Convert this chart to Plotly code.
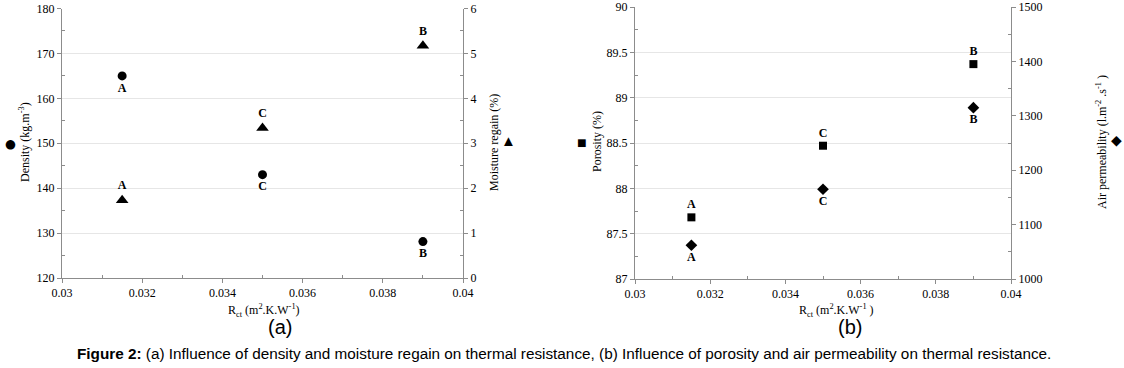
import plotly.graph_objects as go

# ---------------- data ----------------
rct = [0.0315, 0.035, 0.039]
fabric = ["A", "C", "B"]
density = [165.0, 143.0, 128.1]
moisture = [1.73, 3.34, 5.17]
porosity = [87.68, 88.47, 89.37]
air_perm = [1062, 1165, 1315]

x_ticks = [0.03, 0.032, 0.034, 0.036, 0.038, 0.04]
x_ticktext = ["0.03", "0.032", "0.034", "0.036", "0.038", "0.04"]
x_minor = [0.031, 0.033, 0.035, 0.037, 0.039]
dens_ticks = [120, 130, 140, 150, 160, 170, 180]
moist_ticks = [0, 1, 2, 3, 4, 5, 6]
por_ticks = [87, 87.5, 88, 88.5, 89, 89.5, 90]
air_ticks = [1000, 1100, 1200, 1300, 1400, 1500]

W, H = 1124, 368
def px(x):
    return x / W
def py(y):
    return 1 - y / H

SERIF = "Liberation Serif, Times New Roman, serif"
SANS = "Liberation Sans, Arial, sans-serif"
AXC = "#8c8c8c"
GRID = "#e6e6e6"
tickfont = dict(family=SERIF, size=12, color="black")
labfont = dict(family=SERIF, size=12, color="black")

fig = go.Figure()

def add_series(x, y, sym, size, pos, xa, ya):
    fig.add_trace(go.Scatter(
        x=x, y=y, mode="markers+text", text=["<b>%s</b>" % t for t in fabric],
        textposition=pos, textfont=labfont,
        marker=dict(symbol=sym, size=size, color="black"),
        xaxis=xa, yaxis=ya, showlegend=False, cliponaxis=False, hoverinfo="skip"))

add_series(rct, density, "circle", 9, "bottom center", "x", "y")
add_series(rct, moisture, "triangle-up", 11, "top center", "x", "y2")
add_series(rct, porosity, "square", 8, "top center", "x2", "y3")
add_series(rct, air_perm, "diamond", 9, "bottom center", "x2", "y4")

xd1 = [px(62), px(463)]
xd2 = [px(635), px(1011)]
yd1 = [py(278), py(8.5)]
yd2 = [py(279), py(7)]

def xaxis(dom, anchor):
    return dict(domain=dom, anchor=anchor, range=[0.03, 0.04], automargin=False,
                tickmode="array", tickvals=x_ticks, ticktext=x_ticktext,
                ticks="outside", ticklen=4, tickcolor=AXC,
                showline=True, linecolor=AXC, linewidth=1,
                showgrid=False, zeroline=False, tickfont=tickfont,
                minor=dict(tickmode="array", tickvals=x_minor, ticks="inside",
                           ticklen=3, tickcolor=AXC))

def yaxis(dom, anchor, rng, tv, minor, side="left", overlay=None, grid=True):
    d = dict(domain=dom, anchor=anchor, range=rng, tickmode="array", tickvals=tv,
             automargin=False,
             ticks="outside", ticklen=4, tickcolor=AXC, side=side,
             showline=True, linecolor=AXC, linewidth=1,
             showgrid=grid, gridcolor=GRID, gridwidth=1, zeroline=False,
             tickfont=tickfont,
             minor=dict(tickmode="array", tickvals=minor, ticks="inside",
                        ticklen=3, tickcolor=AXC, showgrid=False))
    if overlay:
        d["overlaying"] = overlay
    return d

fig.update_layout(
    width=W, height=H,
    margin=dict(l=0, r=0, t=0, b=0, pad=0, autoexpand=False),
    paper_bgcolor="white", plot_bgcolor="white",
    xaxis=xaxis(xd1, "y"),
    xaxis2=xaxis(xd2, "y3"),
    yaxis=yaxis(yd1, "x", [120, 180], dens_ticks, [v + 5 for v in dens_ticks[:-1]]),
    yaxis2=yaxis(yd1, "x", [0, 6], moist_ticks, [v + 0.5 for v in moist_ticks[:-1]],
                 side="right", overlay="y", grid=False),
    yaxis3=yaxis(yd2, "x2", [87, 90], por_ticks, [v + 0.25 for v in por_ticks[:-1]]),
    yaxis4=yaxis(yd2, "x2", [1000, 1500], air_ticks, [v + 50 for v in air_ticks[:-1]],
                 side="right", overlay="y3", grid=False),
)

ann = []
def text(x, y, t, size=12, family=SERIF, angle=0, **kw):
    ann.append(dict(x=px(x), y=py(y), xref="paper", yref="paper", text=t,
                    xanchor="center", yanchor="middle",
                    showarrow=False, textangle=angle,
                    font=dict(family=family, size=size, color="black"), **kw))

# axis titles, panel (a)
text(24, 142, "Density (kg.m<sup>-3</sup>)", angle=-90)
text(10, 143, "●", size=12.5, family="DejaVu Sans")
text(494, 142, "Moisture regain (%)", angle=-90)
text(508, 141, "▲", size=15)
text(264, 310, "R<sub>ct</sub> (m<sup>2</sup>.K.W<sup>-1</sup>)")
text(280, 327, "(a)", size=20, family=SANS)

# axis titles, panel (b)
text(597, 142, "Porosity (%)", angle=-90)
text(582, 142, "■", size=16)
text(1101, 142, "Air permeability (l.m<sup>-2</sup> .s<sup>-1</sup> )", angle=-90)
text(1116, 140, "◆", size=14)
text(836, 310, "R<sub>ct</sub> (m<sup>2</sup>.K.W<sup>-1</sup> )")
text(850, 327, "(b)", size=20, family=SANS)

# caption
text(564, 353, "<b>Figure 2:</b> (a) Influence of density and moisture regain on thermal resistance, "
     "(b) Influence of porosity and air permeability on thermal resistance.",
     size=15.3, family=SANS)

fig.update_layout(annotations=ann)
fig.write_html("out.html", config={"displayModeBar": False},
               post_script="document.body.style.margin='0';document.body.style.overflow='hidden';")
